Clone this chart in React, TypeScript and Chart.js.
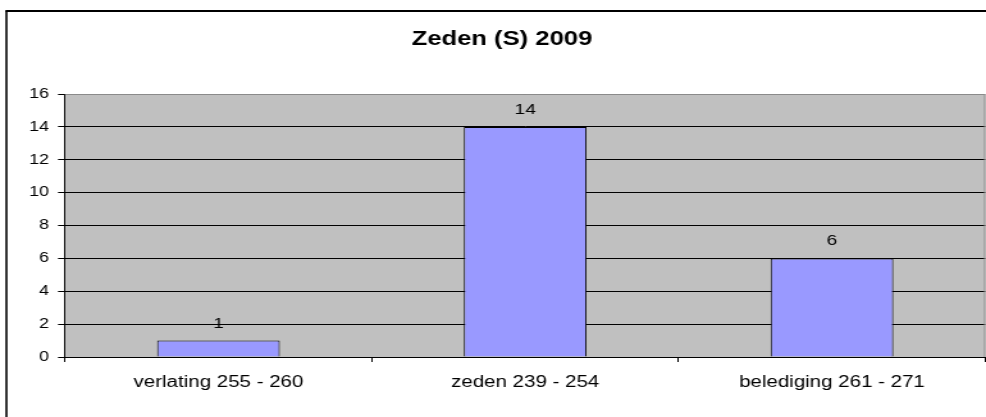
import React, { useEffect, useRef } from "react";
import { Chart, registerables } from "chart.js";
Chart.register(...registerables);

const chartTitle = "Zeden (S) 2009";
const categories = ["verlating 255 - 260", "zeden 239 - 254", "belediging 261 - 271"];
const values = [1, 14, 6];
const yMin = 0;
const yMax = 16;
const yStep = 2;

const W = 770;
const H = 417;
const SX = 986 / W;
const FONT = "'Liberation Sans', Arial, sans-serif";

export default function App() {
  const ref = useRef<HTMLCanvasElement>(null);
  useEffect(() => {
    const canvas = ref.current!;
    const deco = {
      id: "deco",
      beforeDraw(chart: any) {
        const { ctx, chartArea: a } = chart;
        ctx.save();
        ctx.fillStyle = "#ffffff";
        ctx.fillRect(0, 0, chart.width, chart.height);
        ctx.fillStyle = "#C0C0C0";
        ctx.fillRect(a.left, a.top, a.right - a.left, a.bottom - a.top);
        ctx.strokeStyle = "#000";
        ctx.lineWidth = 1.6;
        ctx.beginPath();
        ctx.moveTo(5, chart.height + 5);
        ctx.lineTo(5, 11);
        ctx.stroke();
        ctx.lineWidth = 2;
        ctx.beginPath();
        ctx.moveTo(4.2, 11);
        ctx.lineTo(chart.width + 5, 11);
        ctx.stroke();
        ctx.restore();
      },
      afterDatasetsDraw(chart: any) {
        const { ctx, chartArea: a } = chart;
        ctx.save();
        ctx.strokeStyle = "#8a8a8a";
        ctx.lineWidth = 1;
        ctx.beginPath();
        ctx.moveTo(a.left, Math.round(a.top) + 0.5);
        ctx.lineTo(a.right - 0.5, Math.round(a.top) + 0.5);
        ctx.lineTo(a.right - 0.5, a.bottom);
        ctx.stroke();
        ctx.fillStyle = "#000";
        ctx.font = `15px ${FONT}`;
        ctx.textAlign = "center";
        ctx.textBaseline = "alphabetic";
        const meta = chart.getDatasetMeta(0);
        meta.data.forEach((bar: any, i: number) => {
          ctx.fillText(String(values[i]), bar.x, bar.y - 13);
        });
        ctx.restore();
      },
    };
    const chart = new Chart(canvas, {
      type: "bar",
      data: {
        labels: categories,
        datasets: [
          {
            data: values,
            backgroundColor: "#9999FF",
            borderColor: "#000000",
            borderWidth: 1,
            barPercentage: 0.4,
            categoryPercentage: 1,
          },
        ],
      },
      options: {
        animation: false,
        responsive: false,
        devicePixelRatio: 1,
        layout: { padding: { left: 14.5, right: 0.5, top: 0, bottom: 13.8 } },
        plugins: {
          legend: { display: false },
          tooltip: { enabled: false },
          title: {
            display: true,
            text: chartTitle,
            color: "#000",
            font: { family: FONT, size: 20, weight: "bold" },
            padding: { top: 27.8, bottom: 42.2 },
          },
        },
        scales: {
          x: {
            grid: {
              display: true,
              drawOnChartArea: false,
              offset: true,
              tickLength: 5,
              color: "#000",
            },
            border: { display: true, color: "#000", width: 1 },
            ticks: { color: "#000", font: { family: FONT, size: 16 }, padding: 11, maxRotation: 0, autoSkip: false },
          },
          y: {
            min: yMin,
            max: yMax,
            afterFit: (s: any) => {
              s.width = 36.3;
            },
            grid: {
              color: (c: any) => (c.tick && c.tick.value === yMax ? "#8a8a8a" : "#000"),
              tickColor: "#000",
              tickLength: 5.5,
            },
            border: { display: true, color: "#000", width: 1 },
            ticks: { stepSize: yStep, color: "#000", font: { family: FONT, size: 14 }, padding: 7 },
          },
        },
      },
      plugins: [deco],
    });
    return () => chart.destroy();
  }, []);
  return (
    <canvas
      ref={ref}
      width={W}
      height={H}
      style={{
        position: "fixed",
        left: 0,
        top: 0,
        width: W + "px",
        height: H + "px",
        transform: `scaleX(${SX})`,
        transformOrigin: "0 0",
      }}
    />
  );
}
